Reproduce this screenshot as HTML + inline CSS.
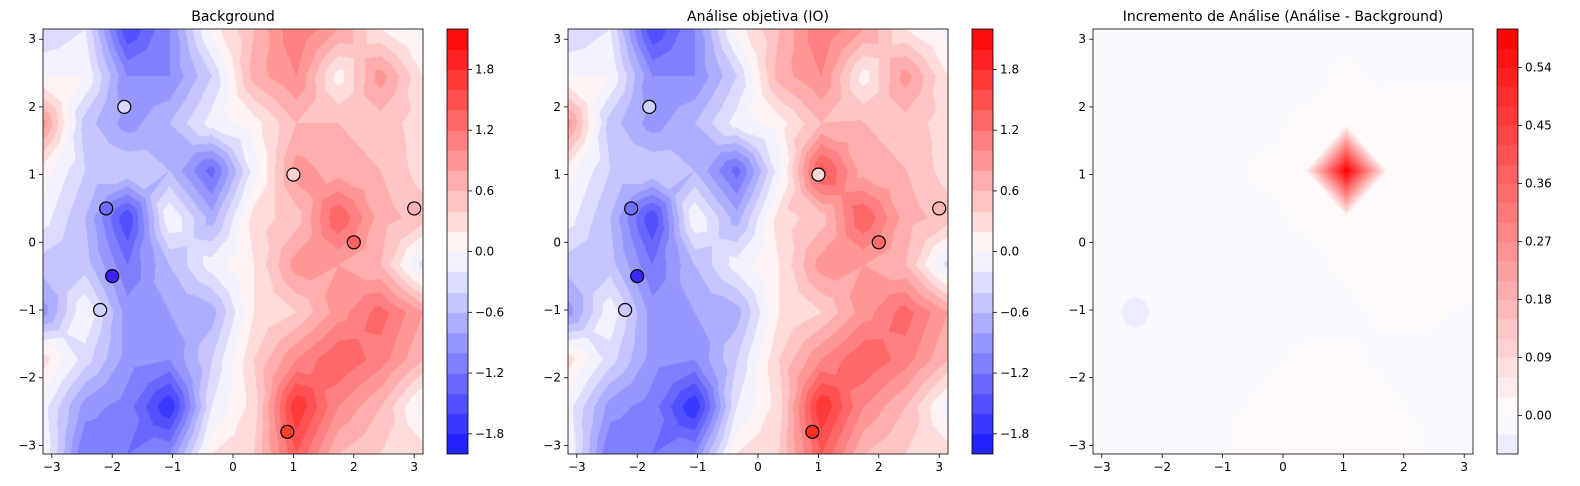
<!DOCTYPE html>
<html><head><meta charset="utf-8"><style>
body{margin:0;background:#fff;width:1580px;height:486px;overflow:hidden;position:relative;font-family:"DejaVu Sans","Liberation Sans",sans-serif}
canvas{position:absolute}
svg{position:absolute;left:0;top:0}
</style></head><body>
<canvas id="c1" width="380" height="425" style="left:43px;top:29px"></canvas>
<canvas id="c2" width="380" height="425" style="left:568px;top:29px"></canvas>
<canvas id="c3" width="380" height="425" style="left:1093px;top:29px"></canvas>
<canvas id="b1" width="21" height="425" style="left:447px;top:29px"></canvas>
<canvas id="b2" width="21" height="425" style="left:972px;top:29px"></canvas>
<canvas id="b3" width="21" height="425" style="left:1497px;top:29px"></canvas>
<svg id="s" width="1580" height="486" font-size="12" fill="#000">
<text x="233" y="21" text-anchor="middle" font-size="14">Background</text>
<text x="758" y="21" text-anchor="middle" font-size="14">Análise objetiva (IO)</text>
<text x="1283" y="21" text-anchor="middle" font-size="14">Incremento de Análise (Análise - Background)</text>
</svg>
<script>
var B=[
[-0.4,-0.2,-1.6,-1.0,0.1,0.6,1.2,0.8,0.2,-0.1],
[0.0,0.0,-1.0,-1.0,-0.4,0.7,1.0,0.1,0.9,0.2],
[0.9,-0.5,-0.9,-0.6,-0.1,0.1,0.6,0.6,0.5,0.3],
[0.1,-0.4,-0.4,-0.6,-1.3,-0.1,0.9,0.7,0.6,0.3],
[-0.1,-0.6,-1.6,0.0,-0.7,0.3,0.5,1.4,0.7,0.5],
[-0.5,-0.5,-1.2,-0.6,-0.1,0.2,0.9,0.8,0.6,-0.3],
[-0.9,0.0,-0.9,-0.8,-0.7,0.2,0.4,0.9,1.3,0.8],
[0.3,-0.3,-0.9,-1.0,-0.4,0.4,1.0,1.4,1.1,0.6],
[-0.1,-0.9,-1.1,-1.8,-0.2,0.3,1.8,1.0,0.6,-0.1],
[0.0,-1.2,-1.2,-1.0,0.2,0.4,1.4,0.6,0.4,0.3]];
var I=[];for(var r=0;r<10;r++){I.push([]);for(var c=0;c<10;c++)I[r].push(-0.001);}
function setv(r,cs,v){cs.forEach(function(c){I[r][c]=v;});}
var P=0.004,Z=0.0006;
setv(2,[7,8,9],P);setv(3,[8,9],P);setv(4,[7,8,9],P);setv(5,[7,8,9],P);setv(3,[6],P);
setv(1,[6],Z);setv(2,[5,6],Z);setv(3,[4,5,7],Z);setv(4,[5,6],Z);setv(5,[6],Z);setv(6,[7,8],Z);
setv(7,[5,6],Z);setv(8,[4,7],Z);setv(8,[5,6],P);setv(9,[4,5,6,7],P);
I[6][1]=-0.045;
var A=B.map(function(row,r){return row.map(function(v,c){return v+I[r][c];});});
A[3][6]+=0.6;
function col(t){t=Math.max(0,Math.min(1,t));var r,g,b;if(t<0.5){r=g=t*2;b=1;}else{r=1;g=b=(1-t)*2;}return [r*255,g*255,b*255];}
function bandColor(v,lo,st,n,vm){var k=Math.floor((v-lo)/st+1e-9);if(k<0)k=0;if(k>n-1)k=n-1;var m=lo+(k+0.5)*st;return col(0.5+m/(2*vm));}
function interp(G,gx,gy){var r0=Math.min(8,Math.floor(gy)),c0=Math.min(8,Math.floor(gx));var fx=gx-c0,fy=gy-r0;
var a=G[r0][c0],b=G[r0][c0+1],c=G[r0+1][c0],d=G[r0+1][c0+1],m=(a+b+c+d)/4;
var u=fx-0.5,v=fy-0.5;
if(Math.abs(v)>=Math.abs(u)){ if(v<0){return m+(-v*2)*((a+b)/2-m)+u*(b-a);} else {return m+(v*2)*((c+d)/2-m)+u*(d-c);} }
else { if(u<0){return m+(-u*2)*((a+c)/2-m)+v*(c-a);} else {return m+(u*2)*((b+d)/2-m)+v*(d-b);} }}
function field(id,G,lo,st,n,vm,peak){var cv=document.getElementById(id),x=cv.getContext('2d'),im=x.createImageData(380,425);
for(var py=0;py<425;py++){var gy=(py+0.5)/425*9;
for(var px=0;px<380;px++){var gx=(px+0.5)/380*9;
var v=interp(G,gx,gy);
if(peak){v+=Math.max(0,0.6*(1-Math.abs(gx-6)-Math.abs(gy-3)));}
var cc=bandColor(v,lo,st,n,vm),i=(py*380+px)*4;im.data[i]=cc[0];im.data[i+1]=cc[1];im.data[i+2]=cc[2];im.data[i+3]=255;}}
x.putImageData(im,0,0);}
function bar(id,lo,st,n,vm){var x=document.getElementById(id).getContext('2d');for(var k=0;k<n;k++){var cc=col(0.5+(lo+(k+0.5)*st)/(2*vm));x.fillStyle='rgb('+cc.map(Math.round).join(',')+')';var y0=425-(k+1)*425/n,y1=425-k*425/n;x.fillRect(0,Math.floor(y0),21,Math.ceil(y1)-Math.floor(y0));}}
field('c1',B,-2,0.2,21,2.2,false);field('c2',A,-2,0.2,21,2.2,false);field('c3',I,-0.06,0.03,22,0.6,true);
bar('b1',-2,0.2,21,2.2);bar('b2',-2,0.2,21,2.2);bar('b3',-0.06,0.03,22,0.6);
var s=document.getElementById('s'),h='';
function ln(a,b,c,d){h+='<line x1="'+a+'" y1="'+b+'" x2="'+c+'" y2="'+d+'" stroke="#000" stroke-width="0.8"/>';}
function tx(x,y,t,an){h+='<text x="'+x+'" y="'+y+'" text-anchor="'+an+'">'+t+'</text>';}
var lab=['\u22123','\u22122','\u22121','0','1','2','3'];
[43,568,1093].forEach(function(L){
 h+='<rect x="'+L+'" y="29" width="380" height="425" fill="none" stroke="#000" stroke-width="0.8"/>';
 for(var k=-3;k<=3;k++){var px=L+190+k*60.4;ln(px,454,px,458);tx(px,471,lab[k+3],'middle');
 var py=242.3-k*67.7;ln(L,py,L-4,py);tx(L-7,py+4,lab[k+3],'end');}
});
function cb(X,lo,hi,ticks,fmt){h+='<rect x="'+X+'" y="29" width="21" height="425" fill="none" stroke="#000" stroke-width="0.8"/>';
 ticks.forEach(function(v){var y=454-(v-lo)/(hi-lo)*425;ln(X+21,y,X+25,y);tx(X+28,y+4,(v<-1e-9?'\u2212':'')+Math.abs(v).toFixed(fmt),'start');});}
cb(447,-2,2.2,[-1.8,-1.2,-0.6,0,0.6,1.2,1.8],1);cb(972,-2,2.2,[-1.8,-1.2,-0.6,0,0.6,1.2,1.8],1);
cb(1497,-0.06,0.6,[0,0.09,0.18,0.27,0.36,0.45,0.54],2);
var obs=[[-1.8,2,'#d8d8ff','#d2d2ff'],[1,1,'#ffd2d2','#ffd8d8'],[-2.1,0.5,'#6c6cff','#7070ff'],[3,0.5,'#ffb4b4','#ffb4b4'],[2,0,'#ff6060','#ff6a6a'],[-2,-0.5,'#3a22ff','#3a28ff'],[-2.2,-1,'#d0d0ff','#cacaff'],[0.9,-2.8,'#ff4028','#ff3220']];
[43,568].forEach(function(L,p){obs.forEach(function(o){h+='<circle cx="'+(L+190+o[0]*60.4)+'" cy="'+(242.3-o[1]*67.7)+'" r="6.5" fill="'+o[2+p]+'" stroke="#000" stroke-width="1.2"/>';});});
s.innerHTML+=h;
</script>
</body></html>
